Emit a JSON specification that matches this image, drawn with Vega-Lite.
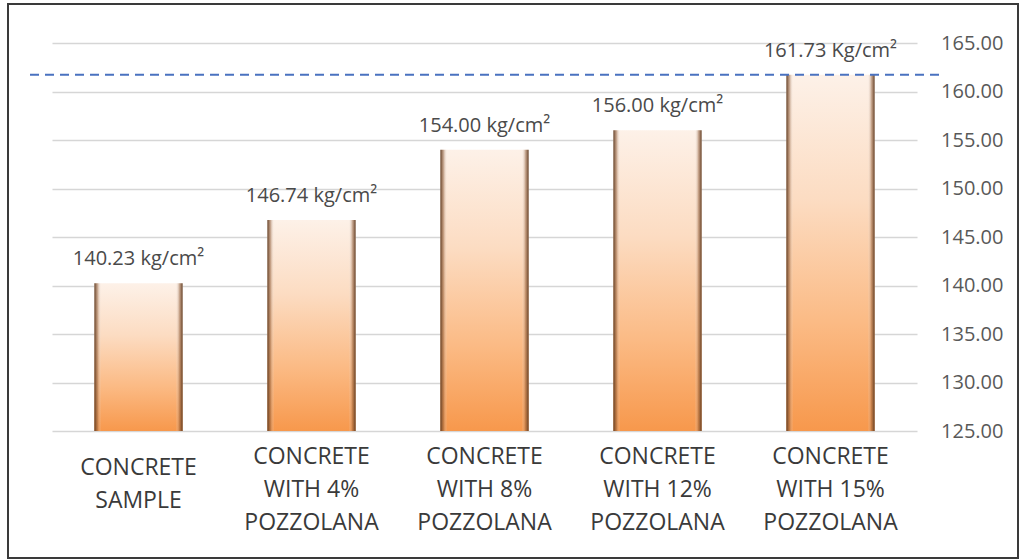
{
  "$schema": "https://vega.github.io/schema/vega-lite/v6.json",
  "width": 1010,
  "height": 554,
  "autosize": {"type": "none"},
  "padding": {"left": 8, "top": 4, "right": 1, "bottom": 1},
  "background": "white",
  "config": {"view": {"stroke": "#3a3a3a", "strokeWidth": 2}, "font": "Open Sans"},
  "data": {"values": [
    {"cat": "CONCRETE\nSAMPLE", "value": 140.23, "label": "140.23 kg/cm²"},
    {"cat": "CONCRETE\nWITH 4%\nPOZZOLANA", "value": 146.74, "label": "146.74 kg/cm²"},
    {"cat": "CONCRETE\nWITH 8%\nPOZZOLANA", "value": 154.00, "label": "154.00 kg/cm²"},
    {"cat": "CONCRETE\nWITH 12%\nPOZZOLANA", "value": 156.00, "label": "156.00 kg/cm²"},
    {"cat": "CONCRETE\nWITH 15%\nPOZZOLANA", "value": 161.73, "label": "161.73 Kg/cm²"}
  ]},
  "resolve": {"scale": {"x": "independent"}, "axis": {"x": "independent"}},
  "layer": [
    {
      "layer": [
        {
          "mark": {
            "type": "bar",
            "color": {
              "gradient": "linear", "x1": 0, "y1": 0, "x2": 0, "y2": 1,
              "stops": [
                {"offset": 0, "color": "#fdf1e8"},
                {"offset": 0.35, "color": "#fcdcc2"},
                {"offset": 0.7, "color": "#fbba84"},
                {"offset": 1, "color": "#f7984c"}
              ]
            }
          },
          "encoding": {
            "x": {
              "field": "cat", "type": "nominal", "sort": null,
              "scale": {"range": [44, 909], "paddingInner": 0.49, "paddingOuter": 0.245},
              "axis": {
                "orient": "bottom", "offset": -127, "domain": false, "ticks": false, "tickSize": 0,
                "grid": false, "labelExpr": "split(datum.label, '\\n')",
                "labelFont": "Open Sans", "labelFontSize": 23, "labelColor": "#3a3a3a",
                "labelPadding": {"condition": {"test": "datum.index == 0", "value": 36}, "value": 25},
                "labelBaseline": "middle", "labelLineHeight": 33,
                "labelAngle": 0, "labelOverlap": false, "labelLimit": 0, "title": null
              }
            },
            "y": {
              "field": "value", "type": "quantitative",
              "scale": {"domain": [125, 165], "range": [427, 39], "nice": false, "zero": false},
              "axis": {
                "orient": "left", "offset": -995, "domain": false, "ticks": false, "tickSize": 0,
                "grid": true, "gridColor": "#d6d6d6", "gridWidth": 1.5,
                "values": [125, 130, 135, 140, 145, 150, 155, 160, 165], "format": ".2f",
                "labelFont": "Open Sans", "labelFontSize": 20, "labelColor": "#595959",
                "labelPadding": 0, "labelAlign": "right", "labelBaseline": "middle", "title": null
              }
            },
            "y2": {"datum": 125}
          }
        },
        {
          "mark": {
            "type": "bar",
            "color": {
              "gradient": "linear", "x1": 0, "y1": 0, "x2": 1, "y2": 0,
              "stops": [
                {"offset": 0, "color": "rgba(90,55,30,0.95)"},
                {"offset": 0.035, "color": "rgba(140,90,55,0.5)"},
                {"offset": 0.08, "color": "rgba(255,255,255,0)"},
                {"offset": 0.92, "color": "rgba(255,255,255,0)"},
                {"offset": 0.965, "color": "rgba(140,90,55,0.5)"},
                {"offset": 1, "color": "rgba(90,55,30,0.95)"}
              ]
            }
          },
          "encoding": {
            "x": {"field": "cat", "type": "nominal", "sort": null},
            "y": {"field": "value", "type": "quantitative", "title": null},
            "y2": {"datum": 125}
          }
        },
        {
          "mark": {"type": "text", "font": "Open Sans", "fontSize": 20, "color": "#4a4a4a", "baseline": "alphabetic", "align": "center", "dy": -18},
          "encoding": {
            "x": {"field": "cat", "type": "nominal", "sort": null},
            "y": {"field": "value", "type": "quantitative", "title": null},
            "text": {"field": "label"}
          }
        }
      ]
    },
    {
      "data": {"values": [{"value": 161.73}]},
      "mark": {"type": "rule", "color": "#4a72c0", "strokeWidth": 2, "strokeDash": [9, 6]},
      "encoding": {
        "x": {"datum": 0, "type": "quantitative", "scale": {"domain": [0, 1], "range": [22, 937], "nice": false, "zero": false}, "axis": null},
        "x2": {"datum": 1},
        "y": {"field": "value", "type": "quantitative", "title": null}
      }
    }
  ]
}
